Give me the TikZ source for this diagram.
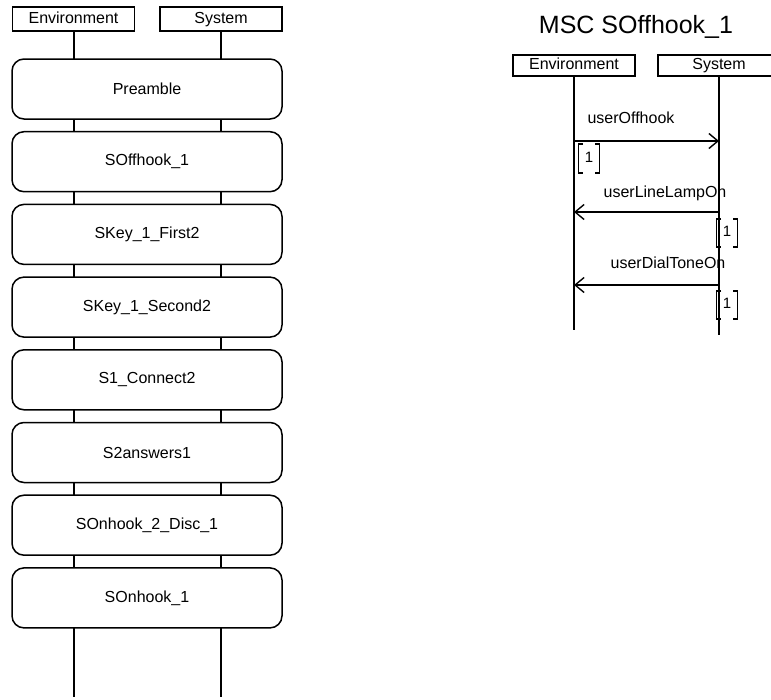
\documentclass[tikz,border=0pt]{standalone}
\usepackage{fontspec}
\setmainfont{Liberation Sans}
\usetikzlibrary{arrows.meta}
\begin{document}
\begin{tikzpicture}[x=1pt,y=-1pt,
  every node/.style={font=\fontsize{16}{19}\selectfont},
  hdr/.style={draw,line width=1.6pt,fill=white,minimum width=122pt,inner sep=0pt,text height=11.5pt,text depth=3.5pt},
  refbox/.style={draw,line width=1.5pt,fill=white,rounded corners=12pt,minimum width=270pt,minimum height=60pt,inner sep=0pt},
  life/.style={line width=1.8pt},
  msg/.style={line width=1.4pt,-{Straight Barb[length=9pt,width=15pt,line width=1.4pt]}},
  brk/.style={line width=1.8pt},
  lbl/.style={anchor=base,inner sep=0pt},
  cnd/.style={inner sep=0pt,font=\fontsize{15}{17}\selectfont}
]
\clip (0,0) rectangle (771,699);
\fill[white] (0,0) rectangle (771,699);

% ---------- left panel ----------
\node[hdr,minimum height=24pt] (envL) at (73.5,19) {Environment};
\node[hdr,minimum height=24pt] (sysL) at (221,19) {System};
\coordinate (envLend) at (74,697);
\coordinate (sysLend) at (221,697);
\draw[life] (envL.south -| envLend) -- (envLend);
\draw[life] (sysL.south -| sysLend) -- (sysLend);

\node[refbox] (b1) at (147,89)    {Preamble};
\node[refbox] (b2) at (147,161.7) {SOffhook\_1};
\node[refbox] (b3) at (147,234.4) {SKey\_1\_First2};
\node[refbox] (b4) at (147,307.1) {SKey\_1\_Second2};
\node[refbox] (b5) at (147,379.8) {S1\_Connect2};
\node[refbox] (b6) at (147,452.5) {S2answers1};
\node[refbox] (b7) at (147,525.2) {SOnhook\_2\_Disc\_1};
\node[refbox] (b8) at (147,597.9) {SOnhook\_1};

% ---------- right panel ----------
\node[lbl,font=\fontsize{25}{30}\selectfont] (title) at (636,33) {MSC SOffhook\_1};
\node[hdr,minimum height=21pt] (envR) at (574,65.5) {Environment};
\node[hdr,minimum height=21pt] (sysR) at (719,65.5) {System};
\coordinate (envRend) at (574,330);
\coordinate (sysRend) at (719,335);
\draw[life] (envR.south) -- (envRend);
\draw[life] (sysR.south) -- (sysRend);

% messages
\coordinate (m1a) at (574,141); \coordinate (m1b) at (719,141);
\draw[msg] (m1a) -- (m1b);
\node[lbl] (l1) at (631,123) {userOffhook};

\coordinate (m2a) at (719,212); \coordinate (m2b) at (574,212);
\draw[msg] (m2a) -- (m2b);
\node[lbl] (l2) at (665,197) {userLineLampOn};

\coordinate (m3a) at (719,285); \coordinate (m3b) at (574,285);
\draw[msg] (m3a) -- (m3b);
\node[lbl] (l3) at (668,268) {userDialToneOn};

% condition brackets
\draw[brk] (583,144) -- (578.5,144) -- (578.5,173) -- (583,173);
\draw[brk] (595,144) -- (599.5,144) -- (599.5,173) -- (595,173);
\node[cnd] (c1) at (589,157) {1};

\draw[brk] (721,219) -- (716.5,219) -- (716.5,247) -- (721,247);
\draw[brk] (733,219) -- (737.5,219) -- (737.5,247) -- (733,247);
\node[cnd] (c2) at (727,231) {1};

\draw[brk] (721,291) -- (716.5,291) -- (716.5,319) -- (721,319);
\draw[brk] (733,291) -- (737.5,291) -- (737.5,319) -- (733,319);
\node[cnd] (c3) at (727,303) {1};
\end{tikzpicture}
\end{document}
